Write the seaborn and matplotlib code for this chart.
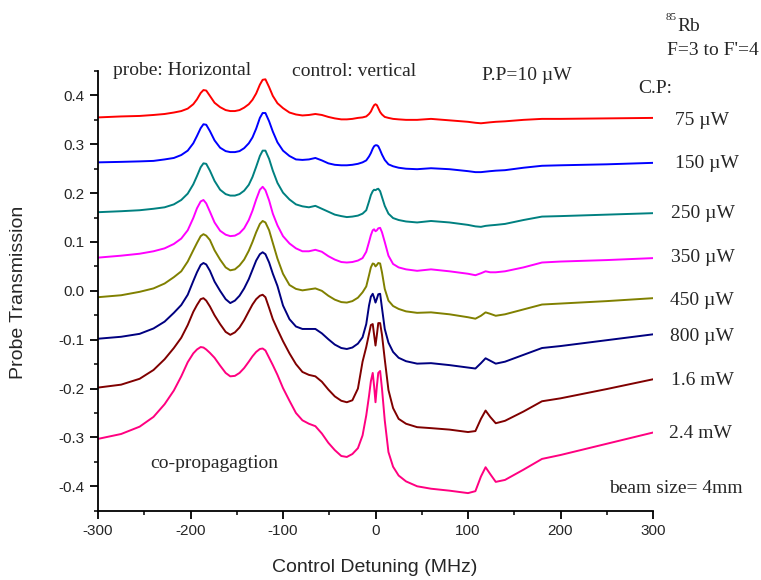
import numpy as np
import pandas as pd
import matplotlib
matplotlib.use("Agg")
import matplotlib.pyplot as plt
from matplotlib.ticker import MultipleLocator, FormatStrFormatter
import seaborn as sns

# Control-field detuning grid (MHz)
detuning = [-300, -275, -255, -240, -228, -218, -210, -203, -197, -193,
            -189, -186, -183, -179, -174, -168, -162, -157, -152, -147,
            -142, -137, -133, -129, -125, -122, -119, -115, -111, -106,
            -100, -93, -86, -79, -72, -65, -58, -51, -44, -37,
            -31, -25, -19, -14, -10, -7, -5, -3, -1.5, 0,
            1.5, 3, 5, 7, 10, 14, 19, 25, 33, 45,
            60, 80, 100, 108, 114, 119, 124, 130, 140, 160,
            180, 200, 250, 300]

# Probe transmission traces (vertically offset), one per control power
cp_75uW = [0.355, 0.357, 0.358, 0.360, 0.362, 0.365, 0.368, 0.373, 0.382, 0.392,
           0.405, 0.411, 0.410, 0.399, 0.385, 0.376, 0.370, 0.368, 0.368, 0.370,
           0.375, 0.382, 0.391, 0.404, 0.422, 0.432, 0.433, 0.417, 0.399, 0.384,
           0.374, 0.365, 0.361, 0.359, 0.360, 0.362, 0.360, 0.356, 0.353, 0.351,
           0.351, 0.352, 0.354, 0.355, 0.357, 0.362, 0.367, 0.375, 0.380, 0.382,
           0.380, 0.374, 0.366, 0.361, 0.356, 0.354, 0.352, 0.351, 0.350, 0.350,
           0.352, 0.349, 0.346, 0.344, 0.343, 0.344, 0.345, 0.346, 0.347, 0.350,
           0.352, 0.352, 0.353, 0.354]
cp_150uW = [0.263, 0.264, 0.265, 0.266, 0.269, 0.272, 0.278, 0.287, 0.302, 0.317,
            0.333, 0.341, 0.340, 0.327, 0.308, 0.293, 0.286, 0.284, 0.284, 0.286,
            0.292, 0.302, 0.314, 0.332, 0.354, 0.364, 0.364, 0.347, 0.326, 0.304,
            0.287, 0.276, 0.269, 0.268, 0.269, 0.272, 0.267, 0.261, 0.258, 0.257,
            0.257, 0.258, 0.260, 0.263, 0.267, 0.275, 0.282, 0.291, 0.296, 0.298,
            0.298, 0.296, 0.288, 0.279, 0.268, 0.259, 0.255, 0.252, 0.250, 0.249,
            0.251, 0.249, 0.245, 0.243, 0.243, 0.244, 0.245, 0.246, 0.247, 0.252,
            0.256, 0.257, 0.259, 0.262]
cp_250uW = [0.161, 0.163, 0.165, 0.168, 0.171, 0.177, 0.186, 0.199, 0.218, 0.235,
            0.253, 0.261, 0.260, 0.246, 0.225, 0.207, 0.198, 0.195, 0.195, 0.198,
            0.205, 0.217, 0.233, 0.254, 0.276, 0.287, 0.287, 0.270, 0.246, 0.221,
            0.201, 0.187, 0.177, 0.173, 0.171, 0.174, 0.168, 0.162, 0.156, 0.153,
            0.151, 0.152, 0.154, 0.158, 0.165, 0.183, 0.196, 0.204, 0.207, 0.206,
            0.208, 0.209, 0.204, 0.192, 0.174, 0.158, 0.149, 0.145, 0.142, 0.140,
            0.143, 0.140, 0.135, 0.132, 0.131, 0.133, 0.134, 0.135, 0.137, 0.145,
            0.152, 0.153, 0.156, 0.159]
cp_350uW = [0.068, 0.072, 0.076, 0.081, 0.087, 0.096, 0.107, 0.124, 0.149, 0.169,
            0.183, 0.186, 0.179, 0.162, 0.140, 0.123, 0.115, 0.112, 0.113, 0.118,
            0.128, 0.145, 0.164, 0.187, 0.207, 0.213, 0.206, 0.185, 0.158, 0.134,
            0.112, 0.097, 0.087, 0.081, 0.081, 0.084, 0.080, 0.071, 0.064, 0.059,
            0.058, 0.059, 0.062, 0.067, 0.080, 0.100, 0.114, 0.124, 0.126, 0.122,
            0.124, 0.128, 0.129, 0.120, 0.100, 0.072, 0.055, 0.048, 0.044, 0.041,
            0.044, 0.040, 0.035, 0.032, 0.036, 0.040, 0.038, 0.038, 0.040, 0.048,
            0.058, 0.060, 0.063, 0.067]
cp_450uW = [-0.013, -0.009, -0.002, 0.005, 0.015, 0.028, 0.040, 0.060, 0.083, 0.098,
            0.112, 0.116, 0.113, 0.104, 0.083, 0.064, 0.048, 0.042, 0.044, 0.052,
            0.064, 0.082, 0.100, 0.120, 0.137, 0.143, 0.140, 0.124, 0.098, 0.066,
            0.035, 0.012, 0.004, 0.001, 0.003, 0.005, 0.000, -0.010, -0.018, -0.023,
            -0.024, -0.021, -0.014, -0.003, 0.009, 0.032, 0.048, 0.056, 0.055, 0.050,
            0.053, 0.057, 0.056, 0.038, 0.004, -0.020, -0.031, -0.037, -0.042, -0.045,
            -0.044, -0.048, -0.054, -0.057, -0.051, -0.044, -0.047, -0.051, -0.048, -0.038,
            -0.028, -0.026, -0.021, -0.015]
cp_800uW = [-0.098, -0.094, -0.088, -0.077, -0.063, -0.045, -0.029, -0.008, 0.020, 0.038,
            0.053, 0.057, 0.054, 0.041, 0.019, 0.000, -0.017, -0.025, -0.020, -0.010,
            0.005, 0.024, 0.043, 0.062, 0.075, 0.079, 0.075, 0.058, 0.035, 0.010,
            -0.030, -0.058, -0.073, -0.078, -0.078, -0.078, -0.087, -0.099, -0.110, -0.117,
            -0.119, -0.116, -0.108, -0.095, -0.068, -0.030, -0.012, -0.006, -0.014, -0.024,
            -0.016, -0.007, -0.006, -0.035, -0.078, -0.106, -0.125, -0.137, -0.144, -0.149,
            -0.148, -0.152, -0.157, -0.159, -0.148, -0.138, -0.143, -0.149, -0.145, -0.131,
            -0.117, -0.113, -0.101, -0.089]
cp_1p6mW = [-0.198, -0.192, -0.180, -0.162, -0.140, -0.117, -0.096, -0.070, -0.043, -0.029,
            -0.017, -0.015, -0.020, -0.032, -0.050, -0.068, -0.084, -0.090, -0.085, -0.075,
            -0.060, -0.042, -0.028, -0.017, -0.010, -0.008, -0.013, -0.035, -0.058, -0.079,
            -0.103, -0.128, -0.150, -0.166, -0.172, -0.175, -0.186, -0.202, -0.216, -0.225,
            -0.228, -0.224, -0.200, -0.145, -0.115, -0.088, -0.070, -0.068, -0.090, -0.112,
            -0.090, -0.066, -0.066, -0.090, -0.140, -0.203, -0.240, -0.262, -0.272, -0.279,
            -0.281, -0.284, -0.289, -0.287, -0.262, -0.245, -0.258, -0.271, -0.266, -0.247,
            -0.226, -0.220, -0.201, -0.181]
cp_2p4mW = [-0.303, -0.293, -0.278, -0.258, -0.232, -0.204, -0.175, -0.146, -0.128, -0.120,
            -0.115, -0.116, -0.120, -0.127, -0.137, -0.153, -0.168, -0.175, -0.174, -0.168,
            -0.158, -0.145, -0.134, -0.125, -0.119, -0.118, -0.122, -0.137, -0.152, -0.172,
            -0.199, -0.225, -0.250, -0.265, -0.272, -0.277, -0.292, -0.311, -0.326, -0.338,
            -0.340, -0.334, -0.322, -0.296, -0.255, -0.215, -0.185, -0.168, -0.195, -0.228,
            -0.195, -0.168, -0.164, -0.200, -0.265, -0.330, -0.360, -0.378, -0.390, -0.400,
            -0.405, -0.409, -0.414, -0.410, -0.380, -0.361, -0.375, -0.391, -0.387, -0.366,
            -0.344, -0.336, -0.313, -0.290]

power_labels = ["75 \u00b5W", "150 \u00b5W", "250 \u00b5W", "350 \u00b5W",
                "450 \u00b5W", "800 \u00b5W", "1.6 mW", "2.4 mW"]
traces = [cp_75uW, cp_150uW, cp_250uW, cp_350uW,
          cp_450uW, cp_800uW, cp_1p6mW, cp_2p4mW]
colors = ["#FF0000", "#0000FF", "#008080", "#FF00FF",
          "#808000", "#000080", "#800000", "#FF0080"]

df = pd.concat(
    [pd.DataFrame({"detuning": detuning, "transmission": y, "power": lab})
     for y, lab in zip(traces, power_labels)],
    ignore_index=True)

sns.set_theme(style="ticks")
plt.rcParams["font.family"] = ["Liberation Sans", "DejaVu Sans"]
plt.rcParams["axes.unicode_minus"] = False

W, H = 761, 580
fig = plt.figure(figsize=(W / 100, H / 100), dpi=100)
ax = fig.add_axes([98 / W, 1 - 510.7 / H, (653 - 98) / W, (510.7 - 71) / H])

sns.lineplot(data=df, x="detuning", y="transmission", hue="power",
             hue_order=power_labels, palette=colors, estimator=None,
             sort=False, linewidth=1.4, legend=False, ax=ax)

ax.set_xlim(-300, 300)
ax.set_ylim(-0.45, 0.45)
ax.xaxis.set_major_locator(MultipleLocator(100))
ax.xaxis.set_minor_locator(MultipleLocator(50))
ax.yaxis.set_major_locator(MultipleLocator(0.1))
ax.yaxis.set_minor_locator(MultipleLocator(0.05))
ax.yaxis.set_major_formatter(FormatStrFormatter("%.1f"))
ax.xaxis.set_major_formatter(FormatStrFormatter("%d"))
for side in ("top", "right"):
    ax.spines[side].set_visible(False)
for side in ("left", "bottom"):
    ax.spines[side].set_linewidth(1.3)
    ax.spines[side].set_color("black")
ax.tick_params(which="major", direction="out", length=5.5, width=1.3,
               labelsize=11, color="black", pad=4)
ax.tick_params(which="minor", direction="out", length=3, width=1.1, color="black")
ax.set_xlabel("")
ax.set_ylabel("")
ax.grid(False)

fig.text(374.7 / W, 1 - 567 / H, "Control Detuning (MHz)", fontsize=14,
         ha="center", va="center")
fig.text(19 / W, 1 - 292 / H, "Probe Transmission", fontsize=14,
         ha="center", va="center", rotation=90)

serif = ["Liberation Serif", "DejaVu Serif"]


def note(x, y, s, size=14):
    fig.text(x / W, 1 - y / H, s, fontsize=size, family=serif,
             ha="left", va="baseline")


note(113, 75, "probe: Horizontal")
note(292, 76, "control: vertical")
note(482, 80, "P.P=10 \u00b5W")
note(666, 20, "85", size=8)
note(677, 31, "Rb")
note(667, 55, "F=3 to F'=4")
note(638, 93, "C.P:")
note(150, 468, "co-propagagtion")
note(609, 493, "beam size= 4mm")

label_pos = [(675, 125), (675, 168), (671, 218), (671, 262),
             (670, 305), (670, 341), (671, 385), (669, 438)]
for (lx, ly), lab in zip(label_pos, power_labels):
    note(lx, ly, lab)

fig.savefig("out.png", dpi=100, facecolor="white")
